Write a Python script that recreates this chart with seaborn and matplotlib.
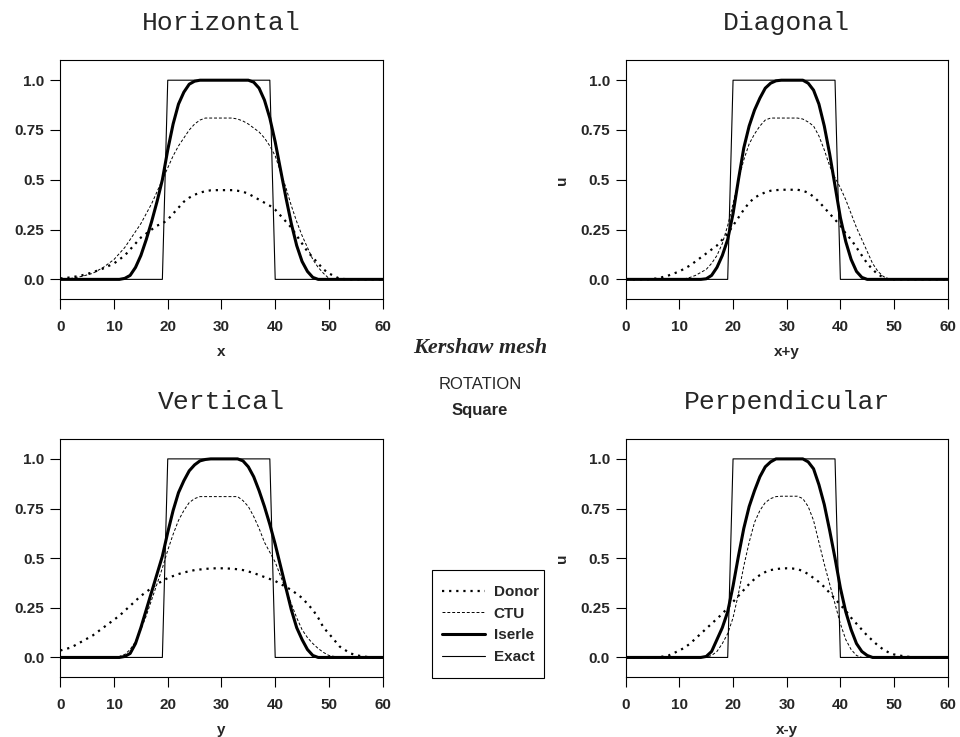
import seaborn as sns
import matplotlib.pyplot as plt
from matplotlib.patches import Rectangle

# Shared abscissa for the numerical solutions
grid = [0, 2, 4, 6, 8,
        10, 11, 12, 13, 14, 15, 16, 17, 18, 19,
        20, 21, 22, 23, 24, 25, 26, 27, 28, 29,
        30, 31, 32, 33, 34, 35, 36, 37, 38, 39,
        40, 41, 42, 43, 44, 45, 46, 47, 48, 49, 50,
        52, 54, 56, 58, 60]

# Exact solution (square pulse)
exact_x = [0, 19, 20, 39, 40, 60]
exact_u = [0, 0, 1, 1, 0, 0]

# Horizontal
donor_h = [0.005, 0.01, 0.02, 0.035, 0.055,
           0.08, 0.1, 0.12, 0.15, 0.18, 0.21, 0.23, 0.25, 0.27, 0.28,
           0.3, 0.33, 0.36, 0.39, 0.41, 0.425, 0.435, 0.443, 0.447, 0.448,
           0.448, 0.448, 0.448, 0.445, 0.44, 0.43, 0.415, 0.4, 0.385, 0.37,
           0.35, 0.32, 0.29, 0.26, 0.22, 0.18, 0.14, 0.11, 0.08, 0.05, 0.03,
           0.003, 0, 0, 0, 0]
ctu_h = [0, 0.005, 0.015, 0.03, 0.06,
         0.1, 0.13, 0.16, 0.2, 0.24, 0.28, 0.33, 0.38, 0.44, 0.5,
         0.56, 0.62, 0.67, 0.71, 0.75, 0.78, 0.8, 0.81, 0.81, 0.81,
         0.81, 0.81, 0.81, 0.805, 0.795, 0.78, 0.76, 0.74, 0.71, 0.67,
         0.62, 0.54, 0.46, 0.37, 0.29, 0.22, 0.16, 0.1, 0.06, 0.03, 0.005,
         0, 0, 0, 0, 0]
iserle_h = [0, 0, 0, 0, 0,
            0, 0, 0.005, 0.02, 0.06, 0.12, 0.2, 0.29, 0.39, 0.5,
            0.65, 0.78, 0.88, 0.94, 0.98, 0.995, 1.0, 1.0, 1.0, 1.0,
            1.0, 1.0, 1.0, 1.0, 1.0, 1.0, 0.99, 0.96, 0.9, 0.81,
            0.69, 0.55, 0.41, 0.28, 0.17, 0.09, 0.04, 0.01, 0, 0, 0,
            0, 0, 0, 0, 0]

# Diagonal
donor_d = [0, 0, 0, 0.005, 0.02,
           0.04, 0.055, 0.07, 0.09, 0.11, 0.13, 0.15, 0.17, 0.2, 0.23,
           0.27, 0.31, 0.35, 0.385, 0.41, 0.425, 0.437, 0.445, 0.448, 0.45,
           0.45, 0.45, 0.45, 0.445, 0.435, 0.415, 0.39, 0.36, 0.33, 0.3,
           0.27, 0.23, 0.2, 0.16, 0.12, 0.08, 0.05, 0.025, 0.01, 0, 0,
           0, 0, 0, 0, 0]
ctu_d = [0, 0, 0, 0, 0,
         0, 0.003, 0.01, 0.02, 0.035, 0.05, 0.08, 0.12, 0.18, 0.27,
         0.38, 0.5, 0.6, 0.68, 0.73, 0.77, 0.8, 0.81, 0.81, 0.81,
         0.81, 0.81, 0.81, 0.805, 0.79, 0.77, 0.72, 0.65, 0.57, 0.51,
         0.46, 0.4, 0.33, 0.26, 0.2, 0.14, 0.08, 0.04, 0.015, 0, 0,
         0, 0, 0, 0, 0]
iserle_d = [0, 0, 0, 0, 0,
            0, 0, 0, 0, 0, 0.003, 0.02, 0.06, 0.12, 0.2,
            0.33, 0.5, 0.66, 0.77, 0.85, 0.91, 0.96, 0.985, 0.997, 1.0,
            1.0, 1.0, 1.0, 1.0, 0.985, 0.95, 0.88, 0.77, 0.63, 0.47,
            0.31, 0.19, 0.1, 0.04, 0.01, 0, 0, 0, 0, 0, 0,
            0, 0, 0, 0, 0]

# Vertical
donor_v = [0.035, 0.05, 0.08, 0.11, 0.15,
           0.19, 0.21, 0.235, 0.26, 0.285, 0.31, 0.33, 0.35, 0.37, 0.385,
           0.4, 0.41, 0.42, 0.428, 0.434, 0.44, 0.443, 0.446, 0.448, 0.449,
           0.449, 0.448, 0.447, 0.444, 0.44, 0.433, 0.425, 0.415, 0.405, 0.395,
           0.385, 0.37, 0.355, 0.34, 0.32, 0.3, 0.27, 0.24, 0.2, 0.15, 0.12,
           0.055, 0.02, 0.006, 0, 0]
ctu_v = [0, 0, 0, 0, 0,
         0, 0.005, 0.015, 0.04, 0.08, 0.14, 0.21, 0.29, 0.37, 0.45,
         0.54, 0.62, 0.69, 0.74, 0.78, 0.8, 0.81, 0.81, 0.81, 0.81,
         0.81, 0.81, 0.81, 0.81, 0.79, 0.76, 0.71, 0.65, 0.58, 0.53,
         0.48, 0.41, 0.34, 0.27, 0.2, 0.14, 0.1, 0.07, 0.045, 0.025, 0.01,
         0, 0, 0, 0, 0]
iserle_v = [0, 0, 0, 0, 0,
            0, 0, 0.005, 0.02, 0.07, 0.15, 0.24, 0.33, 0.42, 0.51,
            0.63, 0.74, 0.83, 0.89, 0.94, 0.97, 0.99, 0.997, 1.0, 1.0,
            1.0, 1.0, 1.0, 1.0, 0.99, 0.96, 0.91, 0.84, 0.76, 0.67,
            0.57, 0.46, 0.35, 0.24, 0.15, 0.09, 0.04, 0.01, 0, 0, 0,
            0, 0, 0, 0, 0]

# Perpendicular
donor_p = [0, 0, 0, 0, 0.01,
           0.035, 0.05, 0.07, 0.095, 0.12, 0.145, 0.17, 0.195, 0.22, 0.25,
           0.28, 0.31, 0.34, 0.37, 0.395, 0.415, 0.43, 0.44, 0.445, 0.448,
           0.449, 0.448, 0.445, 0.435, 0.42, 0.4, 0.38, 0.355, 0.325, 0.295,
           0.265, 0.235, 0.2, 0.17, 0.14, 0.11, 0.085, 0.06, 0.04, 0.025, 0.015,
           0.005, 0, 0, 0, 0]
ctu_p = [0, 0, 0, 0, 0,
         0, 0, 0, 0, 0, 0, 0.01, 0.03, 0.07, 0.12,
         0.2, 0.32, 0.46, 0.58, 0.68, 0.74, 0.78, 0.8, 0.81, 0.812,
         0.812, 0.812, 0.812, 0.8, 0.76, 0.69, 0.58, 0.47, 0.37, 0.27,
         0.17, 0.09, 0.04, 0.01, 0, 0, 0, 0, 0, 0, 0,
         0, 0, 0, 0, 0]
iserle_p = [0, 0, 0, 0, 0,
            0, 0, 0, 0, 0, 0.005, 0.03, 0.09, 0.15, 0.23,
            0.36, 0.51, 0.65, 0.76, 0.84, 0.91, 0.96, 0.985, 1.0, 1.0,
            1.0, 1.0, 1.0, 1.0, 0.985, 0.95, 0.87, 0.77, 0.64, 0.5,
            0.35, 0.23, 0.14, 0.07, 0.03, 0.01, 0, 0, 0, 0, 0,
            0, 0, 0, 0, 0]

x_ticks = [0, 10, 20, 30, 40, 50, 60]
y_ticks = [0.0, 0.25, 0.5, 0.75, 1.0]
y_tick_labels = ["0.0", "0.25", "0.5", "0.75", "1.0"]

sns.set_theme(style="ticks")
plt.rcParams['font.family'] = ['Liberation Sans', 'DejaVu Sans']

fig = plt.figure(figsize=(9.6, 7.37), dpi=100)

panels = [
    # title, xlabel, ylabel, rect, donor, ctu, iserle
    ("Horizontal", "x", "", [0.0628, 0.5939, 0.3358, 0.3243], donor_h, ctu_h, iserle_h),
    ("Diagonal", "x+y", "u", [0.6518, 0.5939, 0.3354, 0.3243], donor_d, ctu_d, iserle_d),
    ("Vertical", "y", "", [0.0628, 0.0810, 0.3358, 0.3233], donor_v, ctu_v, iserle_v),
    ("Perpendicular", "x-y", "u", [0.6518, 0.0810, 0.3354, 0.3233], donor_p, ctu_p, iserle_p),
]

tick_font = dict(family='Liberation Sans', size=11, weight='bold')

for title, xlab, ylab, rect, donor, ctu, iserle in panels:
    ax = fig.add_axes(rect)
    sns.lineplot(x=grid, y=donor, ax=ax, color='black', lw=1.6,
                 linestyle=(0, (1, 2.2)), label='Donor')
    sns.lineplot(x=grid, y=ctu, ax=ax, color='black', lw=0.7,
                 linestyle=(0, (3, 2)), label='CTU')
    sns.lineplot(x=grid, y=iserle, ax=ax, color='black', lw=2.2,
                 label='Iserle')
    sns.lineplot(x=exact_x, y=exact_u, ax=ax, color='black', lw=0.8,
                 label='Exact')
    ax.set_xlim(0, 60)
    ax.set_ylim(-0.1, 1.1)
    ax.set_xticks(x_ticks)
    ax.set_yticks(y_ticks)
    ax.set_xticklabels([str(t) for t in x_ticks], fontdict=tick_font)
    ax.set_yticklabels(y_tick_labels, fontdict=tick_font)
    ax.tick_params(axis='both', direction='out', length=7.5, width=0.8,
                   color='black')
    ax.tick_params(axis='x', pad=7.5)
    ax.tick_params(axis='y', pad=4)
    for sp in ax.spines.values():
        sp.set_linewidth(0.8)
        sp.set_color('black')
    ax.set_xlabel(xlab, fontdict=tick_font, labelpad=7.5)
    ax.set_ylabel(ylab, fontdict=tick_font, labelpad=8)
    ax.set_title(title, family='Liberation Mono', fontsize=19, pad=21.5)
    handles, labels = ax.get_legend_handles_labels()
    ax.get_legend().remove()

fig.text(0.5, 1 - 348 / 737, "Kershaw mesh", ha='center', va='center',
         family='Liberation Serif', style='italic', weight='bold', fontsize=16)
fig.text(0.5, 1 - 385 / 737, "ROTATION", ha='center', va='center',
         family='Liberation Sans', fontsize=12)
fig.text(0.5, 1 - 410 / 737, "Square", ha='center', va='center',
         family='Liberation Sans', fontsize=12, weight='bold')

# legend entries, framed by a separate box
fig.legend(handles, labels, loc='upper left',
           bbox_to_anchor=(432 / 960, 1 - 575 / 737),
           frameon=False,
           prop=dict(family='Liberation Sans', size=11, weight='bold'),
           handlelength=2.8, labelspacing=0.5, borderpad=0.65,
           handletextpad=0.6, borderaxespad=0)
fig.patches.append(Rectangle((432 / 960, 1 - 678 / 737), 112 / 960, 108 / 737,
                             transform=fig.transFigure, fill=False,
                             lw=0.8, ec='black'))

fig.savefig("out.png", dpi=100, facecolor='white')
